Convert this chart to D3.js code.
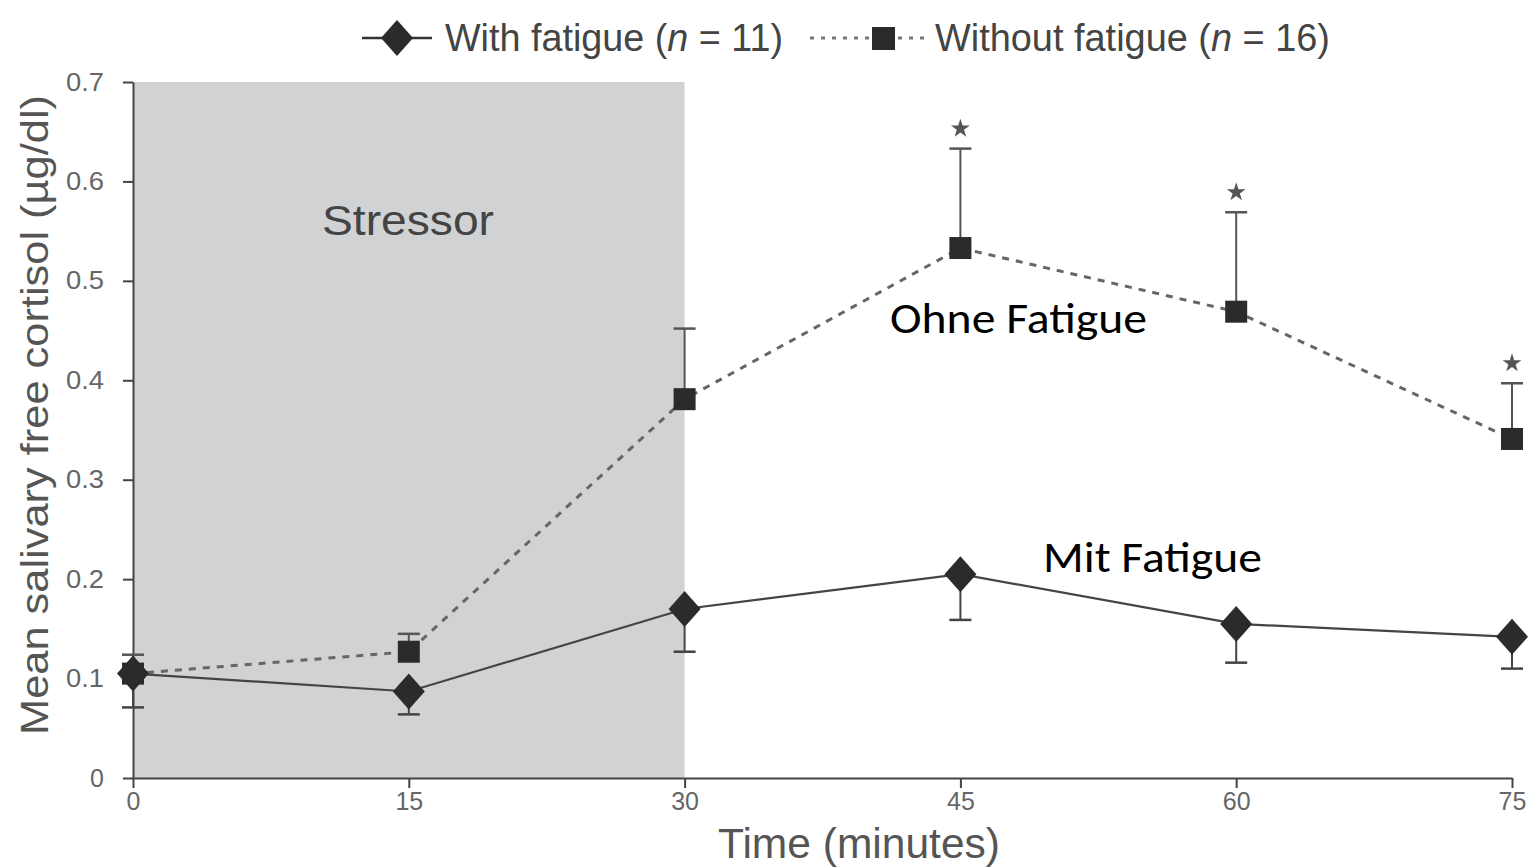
<!DOCTYPE html>
<html>
<head>
<meta charset="utf-8">
<script src="https://cdn.jsdelivr.net/npm/d3@7"></script>
<style>
  body { margin: 0; background: #fff; }
  .axis path, .axis line { stroke: #444; stroke-width: 2; }
  .axis text { fill: #666; font-family: "Liberation Sans", Arial, sans-serif; font-size: 25px; }
</style>
</head>
<body>
<script>
var times = [0, 15, 30, 45, 60, 75];
var withFatigue = [0.105, 0.087, 0.170, 0.205, 0.155, 0.142];
var withFatigueLow = [0.071, 0.064, 0.127, 0.159, 0.116, 0.110];
var withoutFatigue = [0.105, 0.127, 0.381, 0.533, 0.469, 0.341];
var withoutFatigueHigh = [0.124, 0.145, 0.452, 0.633, 0.569, 0.397];
var significant = [false, false, false, true, true, true];
var yTicks = [0, 0.1, 0.2, 0.3, 0.4, 0.5, 0.6, 0.7];
var stressor = [0, 30];

var width = 1531, height = 867;
var margin = { top: 82, right: 19, bottom: 89, left: 133 };

var x = d3.scaleLinear().domain([0, 75]).range([margin.left, width - margin.right]);
var y = d3.scaleLinear().domain([0, 0.7]).range([height - margin.bottom, margin.top]);

var svg = d3.select("body").append("svg")
    .attr("width", width)
    .attr("height", height);

var narrow = '"Liberation Sans", Arial, sans-serif';

// stressor period
svg.append("rect")
    .attr("x", x(stressor[0]))
    .attr("y", y(0.7))
    .attr("width", x(stressor[1]) - x(stressor[0]))
    .attr("height", y(0) - y(0.7))
    .attr("fill", "#d1d2d4");

svg.append("text")
    .attr("x", 322)
    .attr("y", 235)
    .attr("textLength", 172)
    .attr("lengthAdjust", "spacingAndGlyphs")
    .style("font-family", narrow)
    .style("font-size", "42px")
    .style("fill", "#444")
    .text("Stressor");

// axes
svg.append("g")
    .attr("class", "axis")
    .attr("transform", "translate(" + margin.left + ",0)")
    .call(d3.axisLeft(y).tickValues(yTicks).tickSize(10).tickSizeOuter(0)
        .tickFormat(function (d) { return d === 0 ? "0" : d3.format(".1f")(d); }))
    .call(function (g) { g.selectAll("text").attr("dx", "-16").attr("textLength", function (d) { return d === 0 ? null : 38; }).attr("lengthAdjust", "spacingAndGlyphs"); });

svg.append("g")
    .attr("class", "axis")
    .attr("transform", "translate(0," + y(0) + ")")
    .call(d3.axisBottom(x).tickValues(times).tickSize(10).tickSizeOuter(0))
    .call(function (g) { g.selectAll("text").attr("dy", "0.75em"); });

// axis titles
svg.append("text")
    .attr("transform", "translate(48,735) rotate(-90)")
    .attr("textLength", 640)
    .attr("lengthAdjust", "spacingAndGlyphs")
    .style("font-family", narrow)
    .style("font-size", "38px")
    .style("fill", "#555")
    .text("Mean salivary free cortisol (µg/dl)");

svg.append("text")
    .attr("x", 718)
    .attr("y", 858)
    .attr("textLength", 282)
    .attr("lengthAdjust", "spacingAndGlyphs")
    .style("font-family", narrow)
    .style("font-size", "42px")
    .style("fill", "#555")
    .text("Time (minutes)");

// error bars
var cap = 11;
times.forEach(function (t, i) {
    svg.append("line")
        .attr("x1", x(t)).attr("x2", x(t))
        .attr("y1", y(withoutFatigue[i])).attr("y2", y(withoutFatigueHigh[i]))
        .attr("stroke", "#555").attr("stroke-width", 2);
    svg.append("line")
        .attr("x1", x(t) - cap).attr("x2", x(t) + cap)
        .attr("y1", y(withoutFatigueHigh[i])).attr("y2", y(withoutFatigueHigh[i]))
        .attr("stroke", "#555").attr("stroke-width", 2.5);
    svg.append("line")
        .attr("x1", x(t)).attr("x2", x(t))
        .attr("y1", y(withFatigue[i])).attr("y2", y(withFatigueLow[i]))
        .attr("stroke", "#444").attr("stroke-width", 2);
    svg.append("line")
        .attr("x1", x(t) - cap).attr("x2", x(t) + cap)
        .attr("y1", y(withFatigueLow[i])).attr("y2", y(withFatigueLow[i]))
        .attr("stroke", "#444").attr("stroke-width", 2.5);
    if (significant[i]) {
        svg.append("path")
            .attr("d", d3.symbol().type(d3.symbolStar).size(110)())
            .attr("transform", "translate(" + x(t) + "," + (y(withoutFatigueHigh[i]) - 20) + ")")
            .attr("fill", "#555");
    }
});

var line = d3.line()
    .x(function (d) { return x(d[0]); })
    .y(function (d) { return y(d[1]); });

svg.append("path")
    .datum(times.map(function (t, i) { return [t, withoutFatigue[i]]; }))
    .attr("d", line)
    .attr("fill", "none")
    .attr("stroke", "#666")
    .attr("stroke-width", 3)
    .attr("stroke-dasharray", "7,7");

svg.append("path")
    .datum(times.map(function (t, i) { return [t, withFatigue[i]]; }))
    .attr("d", line)
    .attr("fill", "none")
    .attr("stroke", "#444")
    .attr("stroke-width", 2.2);

var diamond = "M0,-18L16,0L0,18L-16,0Z";
var sq = 22;

svg.selectAll(".sq").data(times).enter().append("rect")
    .attr("x", function (t) { return x(t) - sq / 2; })
    .attr("y", function (t, i) { return y(withoutFatigue[i]) - sq / 2; })
    .attr("width", sq).attr("height", sq)
    .attr("fill", "#2b2b2b");

svg.selectAll(".dm").data(times).enter().append("path")
    .attr("d", diamond)
    .attr("transform", function (t, i) { return "translate(" + x(t) + "," + y(withFatigue[i]) + ")"; })
    .attr("fill", "#2b2b2b");

// legend
var lg = svg.append("g").style("font-family", narrow).style("font-size", "38px").style("fill", "#444");
lg.append("line").attr("x1", 362).attr("x2", 432).attr("y1", 38).attr("y2", 38)
    .attr("stroke", "#333").attr("stroke-width", 2.5);
lg.append("path").attr("d", diamond).attr("transform", "translate(397,38)").attr("fill", "#2b2b2b");
var t1 = lg.append("text").attr("x", 445).attr("y", 51)
    .attr("textLength", 338).attr("lengthAdjust", "spacingAndGlyphs");
t1.append("tspan").text("With fatigue (");
t1.append("tspan").style("font-style", "italic").text("n");
t1.append("tspan").text(" = 11)");

lg.append("line").attr("x1", 810).attr("x2", 930).attr("y1", 38).attr("y2", 38)
    .attr("stroke", "#777").attr("stroke-width", 3).attr("stroke-dasharray", "4,7");
lg.append("rect").attr("x", 872).attr("y", 27).attr("width", 23).attr("height", 23).attr("fill", "#2b2b2b");
var t2 = lg.append("text").attr("x", 935).attr("y", 51)
    .attr("textLength", 395).attr("lengthAdjust", "spacingAndGlyphs");
t2.append("tspan").text("Without fatigue (");
t2.append("tspan").style("font-style", "italic").text("n");
t2.append("tspan").text(" = 16)");

// overlay labels
svg.append("text")
    .attr("x", 890).attr("y", 333)
    .attr("textLength", 257)
    .attr("lengthAdjust", "spacingAndGlyphs")
    .style("font-family", "Carlito, Lato, 'Open Sans', sans-serif")
    .style("font-size", "43px")
    .style("fill", "#000")
    .text("Ohne Fatigue");

svg.append("text")
    .attr("x", 1043).attr("y", 572)
    .attr("textLength", 219)
    .attr("lengthAdjust", "spacingAndGlyphs")
    .style("font-family", "Carlito, Lato, 'Open Sans', sans-serif")
    .style("font-size", "43px")
    .style("fill", "#000")
    .text("Mit Fatigue");
</script>
</body>
</html>
